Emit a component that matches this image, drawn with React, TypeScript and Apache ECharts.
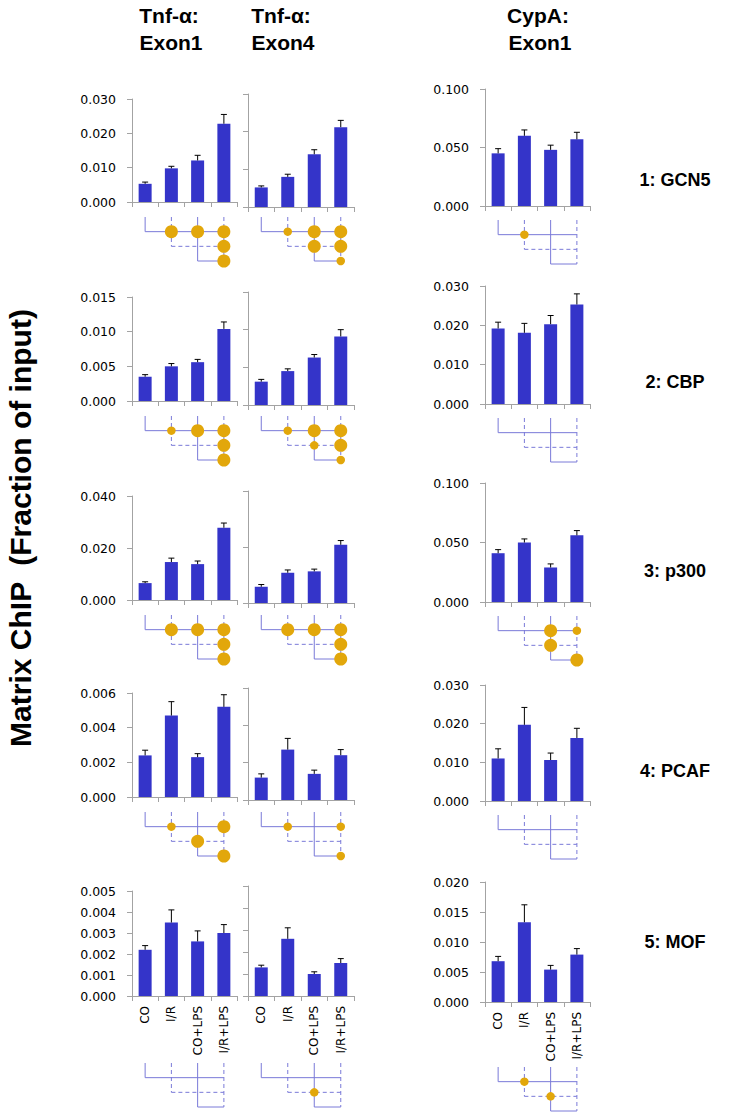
import React, { useEffect, useRef } from 'react';
import * as echarts from 'echarts';

const categories = ['CO', 'I/R', 'CO+LPS', 'I/R+LPS'];
const rowLabels = ['1: GCN5', '2: CBP', '3: p300', '4: PCAF', '5: MOF'];
const columnTitleTop = ['Tnf-α:', 'Tnf-α:', 'CypA:'];
const columnTitleBottom = ['Exon1', 'Exon4', 'Exon1'];
const yAxisTitle = 'Matrix ChIP  (Fraction of input)';

// per row: [Tnf-α Exon1, Tnf-α Exon4, CypA Exon1]
const gcn5Values = [[0.0053, 0.0098, 0.0121, 0.0228], [0.0052, 0.0080, 0.0140, 0.0212], [0.045, 0.060, 0.048, 0.057]];
const gcn5Errors = [[0.0005, 0.0006, 0.0015, 0.0027], [0.0004, 0.0007, 0.0012, 0.0018], [0.004, 0.005, 0.004, 0.006]];
const cbpValues = [[0.0035, 0.0050, 0.0056, 0.0104], [0.0031, 0.0045, 0.0063, 0.0091], [0.0192, 0.0181, 0.0203, 0.0253]];
const cbpErrors = [[0.0003, 0.0004, 0.0004, 0.0010], [0.0003, 0.0003, 0.0004, 0.0009], [0.0016, 0.0024, 0.0022, 0.0027]];
const p300Values = [[0.0065, 0.0146, 0.0138, 0.0278], [0.0058, 0.0108, 0.0113, 0.0208], [0.041, 0.050, 0.029, 0.056]];
const p300Errors = [[0.0005, 0.0015, 0.0012, 0.0018], [0.0008, 0.0010, 0.0008, 0.0015], [0.003, 0.003, 0.003, 0.004]];
const pcafValues = [[0.0024, 0.0047, 0.0023, 0.0052], [0.0012, 0.0027, 0.0014, 0.0024], [0.0110, 0.0197, 0.0106, 0.0163]];
const pcafErrors = [[0.0003, 0.0008, 0.0002, 0.0007], [0.0002, 0.0006, 0.0002, 0.0003], [0.0025, 0.0045, 0.0018, 0.0025]];
const mofValues = [[0.0022, 0.0035, 0.0026, 0.0030], [0.0013, 0.0026, 0.0010, 0.0015], [0.0068, 0.0133, 0.0054, 0.0079]];
const mofErrors = [[0.0002, 0.0006, 0.0005, 0.0004], [0.0001, 0.0005, 0.0001, 0.0002], [0.0008, 0.0029, 0.0007, 0.0010]];

const yMax = [[0.03, 0.03, 0.1], [0.015, 0.015, 0.03], [0.04, 0.04, 0.1], [0.006, 0.006, 0.03], [0.005, 0.005, 0.02]];
const yStep = [[0.01, 0.01, 0.05], [0.005, 0.005, 0.01], [0.02, 0.02, 0.05], [0.002, 0.002, 0.01], [0.001, 0.001, 0.005]];

// significance marks: [group index, comparison level, p]
const gcn5Marks = [
  [[1, 1, 0.01], [2, 1, 0.01], [3, 1, 0.01], [3, 2, 0.01], [3, 3, 0.01]],
  [[1, 1, 0.05], [2, 1, 0.01], [3, 1, 0.01], [2, 2, 0.01], [3, 2, 0.01], [3, 3, 0.05]],
  [[1, 1, 0.05]],
];
const cbpMarks = [
  [[1, 1, 0.05], [2, 1, 0.01], [3, 1, 0.01], [3, 2, 0.01], [3, 3, 0.01]],
  [[1, 1, 0.05], [2, 1, 0.01], [3, 1, 0.01], [2, 2, 0.05], [3, 2, 0.01], [3, 3, 0.05]],
  [],
];
const p300Marks = [
  [[1, 1, 0.01], [2, 1, 0.01], [3, 1, 0.01], [3, 2, 0.01], [3, 3, 0.01]],
  [[1, 1, 0.01], [2, 1, 0.01], [3, 1, 0.01], [3, 2, 0.01], [3, 3, 0.01]],
  [[2, 1, 0.01], [3, 1, 0.05], [2, 2, 0.01], [3, 3, 0.01]],
];
const pcafMarks = [
  [[1, 1, 0.05], [3, 1, 0.01], [2, 2, 0.01], [3, 3, 0.01]],
  [[1, 1, 0.05], [3, 1, 0.05], [3, 3, 0.05]],
  [],
];
const mofMarks = [
  [],
  [[2, 2, 0.05]],
  [[1, 1, 0.05], [2, 2, 0.05]],
];

// comparison diagram: [x1, level1, x2, level2, dashed]
const comparisonSegments = [
  [0, 0, 0, 1, 0],
  [1, 0, 1, 2, 1],
  [2, 0, 2, 3, 0],
  [3, 0, 3, 3, 1],
  [0, 1, 3, 1, 0],
  [1, 2, 3, 2, 1],
  [2, 3, 3, 3, 0],
];

const rowValues = [gcn5Values, cbpValues, p300Values, pcafValues, mofValues];
const rowErrors = [gcn5Errors, cbpErrors, p300Errors, pcafErrors, mofErrors];
const rowMarks = [gcn5Marks, cbpMarks, p300Marks, pcafMarks, mofMarks];

// layout
const panelLeft = [132, 248, 485];
const panelWidth = [105, 106, 105];
const panelTop = [[99, 94, 89], [297, 292, 286], [496, 491, 483], [693, 688, 685], [891, 886, 882]];
const panelBottom = [[202, 207, 206], [401, 405, 404], [600, 603, 602], [797, 800, 801], [996, 996, 1002]];
const titleCenter = [169, 281, 538];
const rowLabelY = [180, 382, 571, 771, 942];

const AXIS = '#a3a3a3';
const BAR = '#3434c9';
const GOLD = '#e2a70b';
const DIAG = '#7a7ad8';
const TICK_FONT = '"DejaVu Sans", Verdana, sans-serif';
const TITLE_FONT = '"Liberation Sans", Arial, sans-serif';

function errorBar(params: any, api: any) {
  const x = api.value(0);
  const v = api.value(1);
  const e = api.value(2);
  const p0 = api.coord([x, v]);
  const p1 = api.coord([x, v + e]);
  const st = { stroke: '#000', lineWidth: 1 };
  return {
    type: 'group',
    children: [
      { type: 'line', shape: { x1: p0[0], y1: p0[1], x2: p1[0], y2: p1[1] }, style: st },
      { type: 'line', shape: { x1: p1[0] - 3, y1: p1[1], x2: p1[0] + 3, y2: p1[1] }, style: st },
    ],
  };
}

function segment(params: any, api: any) {
  const p0 = api.coord([api.value(0), api.value(1)]);
  const p1 = api.coord([api.value(2), api.value(3)]);
  const dashed = api.value(4) === 1;
  return {
    type: 'line',
    shape: { x1: p0[0], y1: p0[1], x2: p1[0], y2: p1[1] },
    style: { stroke: DIAG, lineWidth: 1, lineDash: dashed ? [4, 3] : null },
  };
}

function buildOption() {
  const grid: any[] = [];
  const xAxis: any[] = [];
  const yAxis: any[] = [];
  const series: any[] = [];
  let gi = 0;
  for (let r = 0; r < 5; r++) {
    for (let c = 0; c < 3; c++) {
      const bg = gi++;
      grid.push({
        left: panelLeft[c],
        width: panelWidth[c],
        top: panelTop[r][c],
        height: panelBottom[r][c] - panelTop[r][c],
      });
      xAxis.push({
        gridIndex: bg,
        type: 'category',
        data: categories,
        boundaryGap: true,
        axisLine: { lineStyle: { color: AXIS } },
        axisTick: { show: true, length: 5, lineStyle: { color: AXIS } },
        axisLabel: {
          show: r === 4,
          rotate: 90,
          fontSize: 12,
          fontFamily: TICK_FONT,
          color: '#000',
          margin: 10,
          interval: 0,
        },
      });
      yAxis.push({
        gridIndex: bg,
        type: 'value',
        min: 0,
        max: yMax[r][c],
        interval: yStep[r][c],
        axisLine: { show: true, lineStyle: { color: AXIS } },
        axisTick: { show: true, length: 5, lineStyle: { color: AXIS } },
        splitLine: { show: false },
        axisLabel: {
          show: c !== 1,
          formatter: (v: number) => v.toFixed(3),
          fontSize: 12.5,
          fontFamily: TICK_FONT,
          color: '#000',
          margin: 16,
        },
      });
      series.push({
        type: 'bar',
        xAxisIndex: bg,
        yAxisIndex: bg,
        data: rowValues[r][c],
        barWidth: 13,
        itemStyle: { color: BAR },
      });
      series.push({
        type: 'custom',
        xAxisIndex: bg,
        yAxisIndex: bg,
        data: rowValues[r][c].map((v, k) => [k, v, rowErrors[r][c][k]]),
        encode: { x: 0, y: 1 },
        renderItem: errorBar,
        z: 3,
      });

      const dg = gi++;
      const base = c === 2 ? panelBottom[r][2] : panelBottom[r][0];
      const offset = r === 4 ? (c === 2 ? 65 : 67) : c === 2 ? 14 : 15;
      grid.push({ left: panelLeft[c], width: panelWidth[c], top: base + offset, height: 44 });
      xAxis.push({ gridIndex: dg, type: 'value', min: -0.5, max: 3.5, show: false });
      yAxis.push({ gridIndex: dg, type: 'value', min: 0, max: 3, inverse: true, show: false });
      series.push({
        type: 'custom',
        xAxisIndex: dg,
        yAxisIndex: dg,
        data: comparisonSegments,
        encode: { x: [0, 2], y: [1, 3] },
        renderItem: segment,
        z: 2,
      });
      series.push({
        type: 'scatter',
        xAxisIndex: dg,
        yAxisIndex: dg,
        data: rowMarks[r][c],
        symbolSize: (d: number[]) => (d[2] <= 0.01 ? 13 : 8.5),
        itemStyle: { color: GOLD, opacity: 1 },
        z: 4,
      });
    }
  }

  const graphic: any[] = [];
  for (let c = 0; c < 3; c++) {
    graphic.push({
      type: 'text',
      x: titleCenter[c],
      y: 15,
      style: {
        text: columnTitleTop[c],
        font: `bold 21px ${TITLE_FONT}`,
        fill: '#000',
        align: 'center',
        verticalAlign: 'middle',
        textAlign: 'center',
        textVerticalAlign: 'middle',
      },
    });
    graphic.push({
      type: 'text',
      x: titleCenter[c] + 2,
      y: 42,
      style: {
        text: columnTitleBottom[c],
        font: `bold 21px ${TITLE_FONT}`,
        fill: '#000',
        align: 'center',
        verticalAlign: 'middle',
        textAlign: 'center',
        textVerticalAlign: 'middle',
      },
    });
  }
  for (let r = 0; r < 5; r++) {
    graphic.push({
      type: 'text',
      x: 675,
      y: rowLabelY[r],
      style: {
        text: rowLabels[r],
        font: `bold 18px ${TITLE_FONT}`,
        fill: '#000',
        align: 'center',
        verticalAlign: 'middle',
        textAlign: 'center',
        textVerticalAlign: 'middle',
      },
    });
  }
  graphic.push({
    type: 'text',
    x: 20,
    y: 528,
    rotation: Math.PI / 2,
    style: {
      text: yAxisTitle,
      font: `bold 30px ${TITLE_FONT}`,
      fill: '#000',
      align: 'center',
      verticalAlign: 'middle',
      textAlign: 'center',
      textVerticalAlign: 'middle',
    },
  });

  return {
    animation: false,
    backgroundColor: '#ffffff',
    grid,
    xAxis,
    yAxis,
    series,
    graphic,
  };
}

export default function App() {
  const ref = useRef<HTMLDivElement>(null);
  useEffect(() => {
    if (!ref.current) return;
    const chart = echarts.init(ref.current, undefined, { renderer: 'svg' });
    chart.setOption(buildOption() as any);
    return () => chart.dispose();
  }, []);
  return (
    <div
      ref={ref}
      style={{ position: 'absolute', left: 0, top: 0, width: 754, height: 1117, background: '#fff' }}
    />
  );
}
